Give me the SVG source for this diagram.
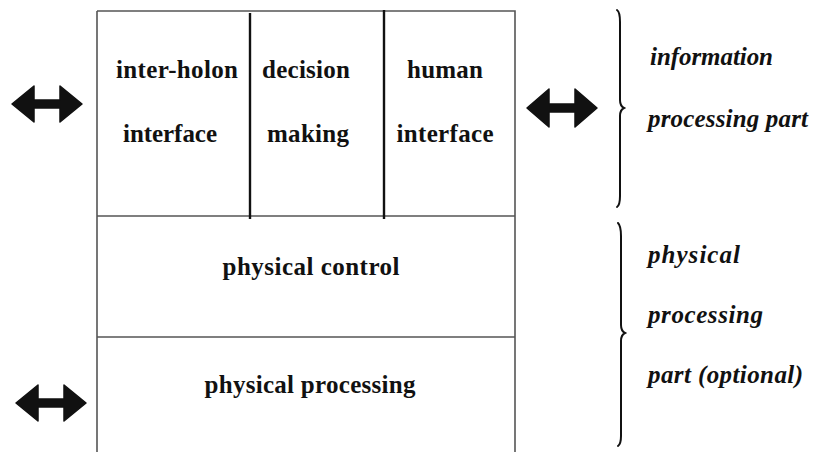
<svg xmlns="http://www.w3.org/2000/svg" width="817" height="452" viewBox="0 0 817 452">
<style>
.frame{fill:none;stroke:#555;stroke-width:1.6}
.div{stroke:#111;stroke-width:2.4}
.brace{fill:none;stroke:#111;stroke-width:2;stroke-linecap:round}
.arrow{fill:#111;stroke:#111;stroke-width:1.5;stroke-linejoin:round}
.b{font-family:"Liberation Serif","Times New Roman",serif;font-weight:bold;font-size:25px;fill:#111;text-anchor:middle}
.i{font-family:"Liberation Serif","Times New Roman",serif;font-weight:bold;font-style:italic;font-size:25px;fill:#111}
</style>
<rect width="817" height="452" fill="#fff"/>
<g id="connectors">
<polygon class="arrow" points="12,104 34,86 34,100 60,100 60,86 82,104 60,122 60,108 34,108 34,122"/>
<polygon class="arrow" points="527,108 549,89 549,104 575,104 575,89 597,108 575,127 575,112 549,112 549,127"/>
<polygon class="arrow" points="16,403 38,385 38,399 64,399 64,385 86,403 64,421 64,407 38,407 38,421"/>
</g>
<g id="holon-frame">
<path class="frame" d="M97,11 H515 V452 M97,11 V452 M97,216 H515 M97,337 H515"/>
<line class="div" x1="250" y1="13" x2="250" y2="219"/>
<line class="div" x1="384" y1="10" x2="384" y2="219"/>
</g>
<g id="inter-holon-interface">
<text class="b" x="177" y="78" textLength="122" lengthAdjust="spacing">inter-holon</text>
<text class="b" x="170" y="142" textLength="94" lengthAdjust="spacing">interface</text>
</g>
<g id="decision-making">
<text class="b" x="306" y="78" textLength="88" lengthAdjust="spacing">decision</text>
<text class="b" x="308" y="142" textLength="82" lengthAdjust="spacing">making</text>
</g>
<g id="human-interface">
<text class="b" x="445" y="78" textLength="76" lengthAdjust="spacing">human</text>
<text class="b" x="445" y="142" textLength="97" lengthAdjust="spacing">interface</text>
</g>
<g id="physical-control">
<text class="b" x="311" y="275" textLength="177" lengthAdjust="spacing">physical control</text>
</g>
<g id="physical-processing">
<text class="b" x="310" y="393" textLength="211" lengthAdjust="spacing">physical processing</text>
</g>
<g id="info-label">
<path class="brace" d="M617,10 Q620,12 620,22 L620,100 Q620,106 624,108 Q620,110 620,116 L620,196 Q620,205 617,207"/>
<text class="i" x="650" y="65" textLength="123" lengthAdjust="spacing">information</text>
<text class="i" x="648" y="127" textLength="160" lengthAdjust="spacing">processing part</text>
</g>
<g id="physical-label">
<path class="brace" d="M618,223 Q621,226 621,236 L621,325 Q621,331 625,333 Q621,335 621,341 L621,436 Q621,444 618,446"/>
<text class="i" x="648" y="263" textLength="92" lengthAdjust="spacing">physical</text>
<text class="i" x="648" y="323" textLength="115" lengthAdjust="spacing">processing</text>
<text class="i" x="648" y="383" textLength="155" lengthAdjust="spacing">part (optional)</text>
</g>
</svg>
